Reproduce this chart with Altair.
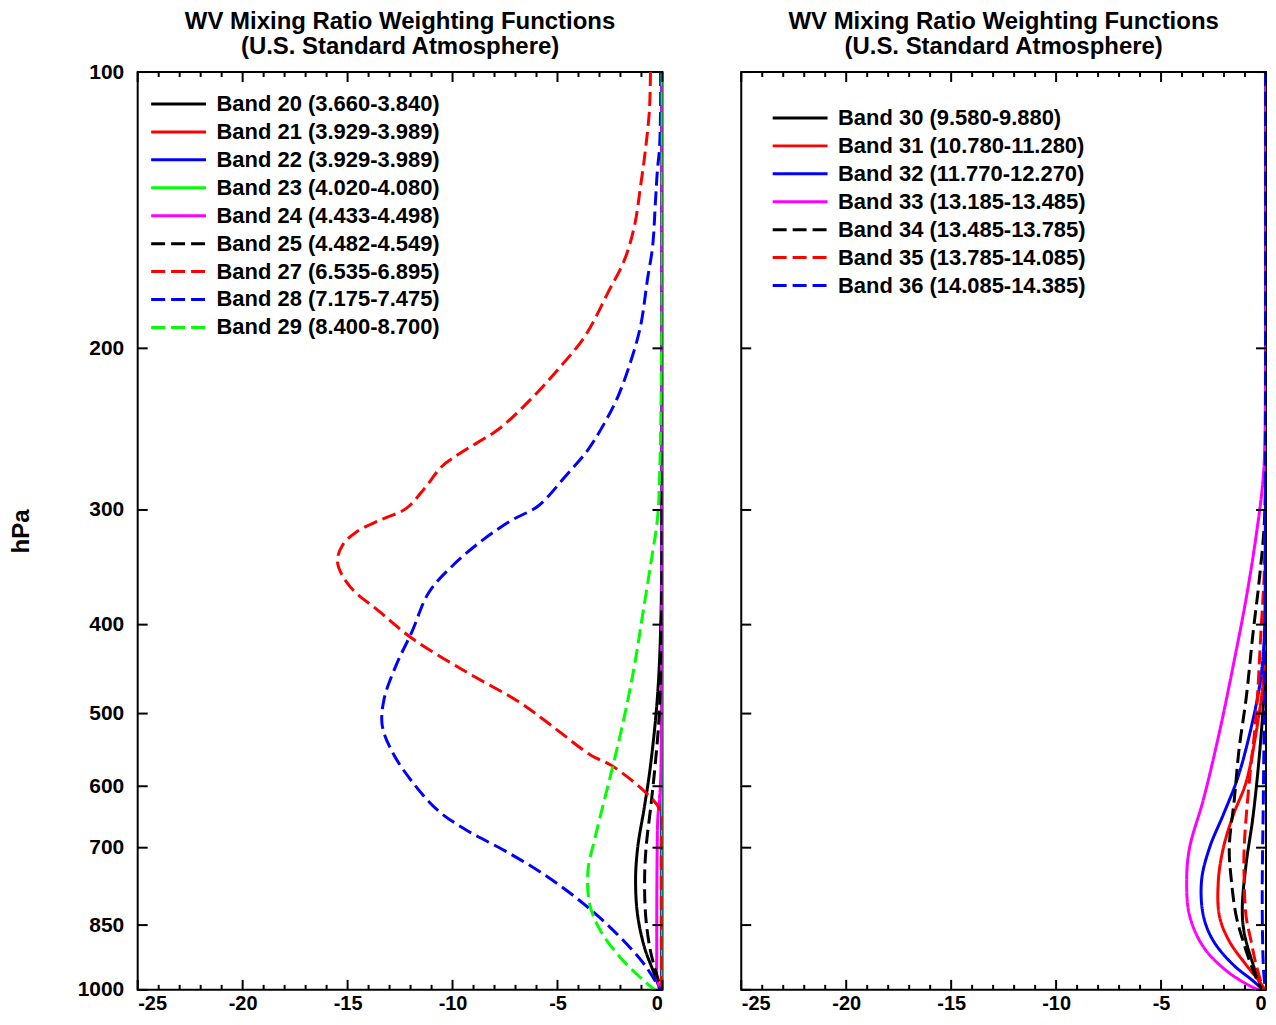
import altair as alt
import pandas as pd

FONT = "Liberation Sans"

# ---------------- data ----------------
LEFT_BANDS = [
    "Band 20 (3.660-3.840)", "Band 21 (3.929-3.989)", "Band 22 (3.929-3.989)",
    "Band 23 (4.020-4.080)", "Band 24 (4.433-4.498)", "Band 25 (4.482-4.549)",
    "Band 27 (6.535-6.895)", "Band 28 (7.175-7.475)", "Band 29 (8.400-8.700)",
]
LEFT_COLORS = ["#000000", "#ff0000", "#0000ff", "#00ff00", "#ff00ff",
               "#000000", "#ff0000", "#0000ff", "#00ff00"]
LEFT_DASHED = [False, False, False, False, False, True, True, True, True]

RIGHT_BANDS = [
    "Band 30 (9.580-9.880)", "Band 31 (10.780-11.280)", "Band 32 (11.770-12.270)",
    "Band 33 (13.185-13.485)", "Band 34 (13.485-13.785)", "Band 35 (13.785-14.085)",
    "Band 36 (14.085-14.385)",
]
RIGHT_COLORS = ["#000000", "#ff0000", "#0000ff", "#ff00ff", "#000000", "#ff0000", "#0000ff"]
RIGHT_DASHED = [False, False, False, False, True, True, True]

# pressure (hPa) and weighting values per band
B20_P = [100, 300, 400, 480, 570, 630, 700, 760, 830, 900, 950, 995, 1000]
B20_W = [0.0, -0.03, -0.08, -0.24, -0.57, -0.85, -1.18, -1.28, -1.18, -0.85, -0.47, -0.14, -0.1]
B21_P = [100, 300, 500, 700, 850, 1000]
B21_W = [-0.02, -0.02, -0.03, -0.05, -0.05, -0.03]
B22_P = [100, 300, 500, 700, 850, 1000]
B22_W = [-0.03, -0.03, -0.03, -0.04, -0.04, -0.03]
B23_P = [100, 300, 500, 700, 850, 1000]
B23_W = [0.0, 0.0, 0.0, -0.01, -0.01, 0.0]
B24_P = [100, 500, 600, 650, 700, 900, 970, 1000]
B24_W = [-0.02, -0.05, -0.1, -0.22, -0.25, -0.27, -0.25, -0.1]
B25_P = [100, 300, 400, 500, 570, 630, 700, 760, 830, 900, 950, 1000]
B25_W = [0.0, -0.02, -0.05, -0.15, -0.35, -0.55, -0.78, -0.85, -0.8, -0.6, -0.35, -0.05]
B27_P = [100, 110, 121, 133, 147, 160, 174, 194, 209, 227, 245, 258, 269, 283, 299,
         307, 317, 328, 342, 363, 387, 414, 450, 485, 515, 555, 569, 608, 639, 700, 800, 1000]
B27_W = [-0.57, -0.62, -0.80, -1.04, -1.33, -1.80, -2.60, -3.69, -4.83, -6.25, -7.81, -9.38,
         -10.51, -11.27, -12.22, -13.35, -14.58, -15.25, -15.48, -14.91, -13.49, -11.93,
         -9.38, -6.87, -5.30, -3.41, -2.46, -0.85, -0.09, -0.06, -0.05, -0.05]
B28_P = [100, 110, 121, 128, 138, 155, 168, 189, 207, 226, 241, 258, 276, 297, 308, 323,
         344, 369, 407, 443, 482, 515, 550, 593, 639, 672, 706, 750, 808, 871, 939, 1000]
B28_W = [-0.09, -0.09, -0.14, -0.24, -0.33, -0.47, -0.71, -1.04, -1.52, -2.13, -2.75, -3.55,
         -4.64, -5.92, -7.20, -8.52, -9.94, -11.13, -11.93, -12.69, -13.26, -13.35, -12.88,
         -11.93, -10.65, -9.23, -7.48, -5.59, -3.69, -2.13, -0.85, -0.09]
B29_P = [100, 177, 278, 307, 345, 391, 443, 502, 559, 619, 684, 742, 808, 863, 923, 970, 1000]
B29_W = [-0.02, -0.02, -0.14, -0.24, -0.57, -0.95, -1.33, -1.80, -2.27, -2.75, -3.22, -3.55,
         -3.46, -2.94, -1.99, -1.04, -0.38]

B30_P = [100, 300, 450, 530, 645, 730, 815, 866, 939, 994, 1000]
B30_W = [0.0, -0.02, -0.05, -0.24, -0.61, -0.95, -1.13, -1.04, -0.61, -0.2, -0.1]
B31_P = [100, 300, 450, 524, 594, 645, 700, 760, 831, 885, 939, 978, 1000]
B31_W = [0.0, -0.02, -0.1, -0.47, -0.95, -1.56, -2.03, -2.27, -2.22, -1.75, -0.95, -0.33, -0.05]
B32_P = [100, 300, 420, 470, 546, 594, 644, 700, 760, 831, 885, 939, 978, 1000]
B32_W = [0.0, -0.03, -0.1, -0.33, -0.95, -1.42, -2.03, -2.69, -3.07, -2.98, -2.5, -1.56, -0.61, -0.14]
B33_P = [100, 250, 278, 320, 375, 443, 524, 620, 700, 760, 830, 898, 953, 989, 1000]
B33_W = [0.0, -0.05, -0.14, -0.47, -0.95, -1.56, -2.22, -2.98, -3.64, -3.78, -3.64, -2.98,
         -1.89, -0.8, -0.33]
B34_P = [100, 300, 359, 407, 482, 546, 620, 700, 760, 831, 885, 953, 994, 1000]
B34_W = [0.0, -0.05, -0.33, -0.61, -0.95, -1.28, -1.51, -1.75, -1.65, -1.42, -1.09, -0.61, -0.24, -0.1]
B35_P = [100, 300, 350, 407, 502, 594, 700, 760, 831, 885, 939, 994, 1000]
B35_W = [0.0, -0.03, -0.08, -0.24, -0.47, -0.8, -1.04, -1.04, -0.95, -0.71, -0.47, -0.14, -0.05]
B36_P = [100, 400, 600, 800, 950, 1000]
B36_W = [-0.02, -0.05, -0.12, -0.18, -0.12, -0.03]

LEFT_SERIES = [(B20_P, B20_W), (B21_P, B21_W), (B22_P, B22_W), (B23_P, B23_W), (B24_P, B24_W),
               (B25_P, B25_W), (B27_P, B27_W), (B28_P, B28_W), (B29_P, B29_W)]
RIGHT_SERIES = [(B30_P, B30_W), (B31_P, B31_W), (B32_P, B32_W), (B33_P, B33_W),
                (B34_P, B34_W), (B35_P, B35_W), (B36_P, B36_W)]

Y_TICKS = [100, 200, 300, 400, 500, 600, 700, 850, 1000]
X_MAJOR = [-25, -20, -15, -10, -5, 0]
X_MINOR = [v for v in range(-24, 0) if v % 5 != 0]

TITLE_LINES = ["WV Mixing Ratio Weighting Functions", "(U.S. Standard Atmosphere)"]

W, H = 526, 920
DASH = [14, 6]
SOLID = [1, 0]


def make_df(bands, series):
    rows = []
    for b, (ps, ws) in zip(bands, series):
        for p, w in zip(ps, ws):
            rows.append({"band": b, "p": p, "w": w})
    return pd.DataFrame(rows)


def panel(bands, colors, dashed, series, show_y, lx, ly, title_offset):
    df = make_df(bands, series)
    dashes = [DASH if d else SOLID for d in dashed]
    leg = alt.Legend(
        title=None, orient="none", legendX=lx, legendY=ly,
        symbolType="M-5,0H5", symbolSize=121, symbolStrokeWidth=3,
        labelFontSize=22, labelFont=FONT, labelFontWeight="bold", labelColor="black",
        labelOffset=27, rowPadding=6, labelLimit=500, padding=0,
    )
    xscale = alt.Scale(domain=[-25, 0], nice=False, zero=False)
    yscale = alt.Scale(type="log", domain=[100, 1000], reverse=True, nice=False)
    xaxis = alt.Axis(values=X_MAJOR, title=None, ticks=False, domain=False, grid=False,
                     labelExpr="'' + datum.value", labelFontSize=20, labelFont=FONT,
                     labelFontWeight="bold", labelColor="black", labelPadding=4)
    if show_y:
        yaxis = alt.Axis(values=Y_TICKS, title="hPa", ticks=False, domain=False, grid=False,
                         labelExpr="'' + datum.value",
                         labelFontSize=21, labelFont=FONT, labelFontWeight="bold",
                         labelColor="black", labelPadding=14, titleFontSize=24,
                         titleFont=FONT, titleFontWeight="bold", titleColor="black",
                         titlePadding=44)
    else:
        yaxis = None
    lines = alt.Chart(df).mark_line(strokeWidth=3, interpolate="catmull-rom", clip=True).encode(
        x=alt.X("w:Q", scale=xscale, axis=xaxis),
        y=alt.Y("p:Q", scale=yscale, axis=yaxis),
        color=alt.Color("band:N", scale=alt.Scale(domain=bands, range=colors), legend=leg),
        strokeDash=alt.StrokeDash("band:N", scale=alt.Scale(domain=bands, range=dashes), legend=leg),
        order=alt.Order("p:Q"),
    )
    ydf = pd.DataFrame({"p": Y_TICKS})
    xmaj = pd.DataFrame({"w": X_MAJOR})
    xmin = pd.DataFrame({"w": X_MINOR})
    rk = dict(color="black", strokeWidth=2)
    yenc = alt.Y("p:Q", scale=yscale, axis=yaxis)
    xenc = alt.X("w:Q", scale=xscale, axis=xaxis)
    yl = alt.Chart(ydf).mark_rule(**rk).encode(y=yenc, x=alt.value(0), x2=alt.value(10))
    yr = alt.Chart(ydf).mark_rule(**rk).encode(y=yenc, x=alt.value(W - 10), x2=alt.value(W))
    xb = alt.Chart(xmaj).mark_rule(**rk).encode(x=xenc, y=alt.value(H - 10), y2=alt.value(H))
    xt = alt.Chart(xmaj).mark_rule(**rk).encode(x=xenc, y=alt.value(0), y2=alt.value(10))
    xbm = alt.Chart(xmin).mark_rule(**rk).encode(x=xenc, y=alt.value(H - 5), y2=alt.value(H))
    xtm = alt.Chart(xmin).mark_rule(**rk).encode(x=xenc, y=alt.value(0), y2=alt.value(5))
    title = alt.TitleParams(TITLE_LINES, fontSize=24, font=FONT, fontWeight="bold",
                            color="black", anchor="middle", offset=title_offset, lineHeight=25)
    return alt.layer(lines, yl, yr, xb, xt, xbm, xtm).properties(
        width=W, height=H, title=title)


left = panel(LEFT_BANDS, LEFT_COLORS, LEFT_DASHED, LEFT_SERIES, True, 30, 21, 2)
right = panel(RIGHT_BANDS, RIGHT_COLORS, RIGHT_DASHED, RIGHT_SERIES, False, 48, 35, 12)

chart = alt.hconcat(left, right, spacing=75).resolve_scale(
    color="independent", strokeDash="independent"
).resolve_legend(color="independent", strokeDash="independent").configure_view(
    stroke="black", strokeWidth=2
).properties(padding={"left": 0, "top": 0, "right": 0, "bottom": 0}, background="white")

chart.save("out.html", embed_options={"renderer": "svg", "actions": False})
